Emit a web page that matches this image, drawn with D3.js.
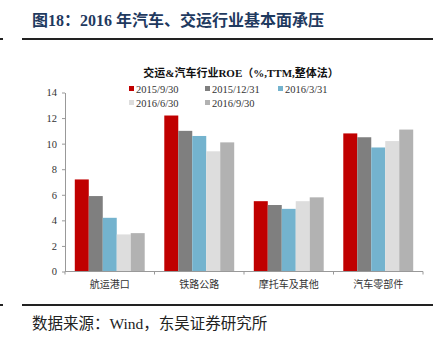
<!DOCTYPE html>
<html><head><meta charset="utf-8">
<script src="https://cdn.jsdelivr.net/npm/d3@7/dist/d3.min.js"></script>
<style>
body{margin:0;background:#fff;}
svg{display:block;}
</style></head>
<body>
<svg id="c" width="440" height="341"></svg>
<script>
const categories = ["航运港口", "铁路公路", "摩托车及其他", "汽车零部件"];
const seriesNames = ["2015/9/30", "2015/12/31", "2016/3/31", "2016/6/30", "2016/9/30"];
const s2015_09 = [7.2, 12.2, 5.5, 10.8];
const s2015_12 = [5.9, 11.0, 5.2, 10.5];
const s2016_03 = [4.2, 10.6, 4.9, 9.7];
const s2016_06 = [2.9, 9.4, 5.5, 10.2];
const s2016_09 = [3.0, 10.1, 5.8, 11.1];
const yTicks = [0, 2, 4, 6, 8, 10, 12, 14];
const colors = ["#C00000", "#7F7F7F", "#74B3CE", "#DDDDDD", "#B2B2B2"];

const seriesValues = [s2015_09, s2015_12, s2016_03, s2016_06, s2016_09];
const svg = d3.select("#c");
const serif = "'Liberation Serif','Times New Roman',serif";
const cjk = "'Noto Sans CJK SC',sans-serif";

// Header
svg.append("text").attr("x", 32).attr("y", 26)
  .attr("font-family", serif + "," + cjk).attr("font-weight", "bold")
  .attr("font-size", 16).attr("fill", "#1F3A5F")
  .text("图18：2016 年汽车、交运行业基本面承压");
svg.append("line").attr("x1", 22).attr("x2", 433).attr("y1", 39).attr("y2", 39)
  .attr("stroke", "#222").attr("stroke-width", 2);
svg.append("line").attr("x1", 0).attr("x2", 3).attr("y1", 39).attr("y2", 39)
  .attr("stroke", "#222").attr("stroke-width", 2);

// Footer
svg.append("line").attr("x1", 22).attr("x2", 433).attr("y1", 305).attr("y2", 305)
  .attr("stroke", "#222").attr("stroke-width", 2);
svg.append("line").attr("x1", 0).attr("x2", 3).attr("y1", 305).attr("y2", 305)
  .attr("stroke", "#222").attr("stroke-width", 2);
svg.append("text").attr("x", 32).attr("y", 329)
  .attr("font-family", serif + "," + cjk).attr("font-size", 15.5).attr("fill", "#222")
  .text("数据来源：Wind，东吴证券研究所");

// Chart title
svg.append("text").attr("x", 241).attr("y", 77).attr("text-anchor", "middle")
  .attr("font-family", serif + "," + cjk).attr("font-weight", "bold")
  .attr("font-size", 11).attr("fill", "#111")
  .text("交运&汽车行业ROE（%,TTM,整体法）");

// Legend
const legX = [129, 205, 278];
seriesNames.forEach((n, i) => {
  const x = legX[i % 3], y = i < 3 ? 89 : 103;
  svg.append("rect").attr("x", x).attr("y", y - 3).attr("width", 5).attr("height", 5).attr("fill", colors[i]);
  svg.append("text").attr("x", x + 7).attr("y", y + 3.5)
    .attr("font-family", serif).attr("font-size", 10.5).attr("fill", "#333").text(n);
});

// Scales
const x0 = d3.scaleBand().domain(categories).range([65, 423]).paddingInner(0).paddingOuter(0);
const x1 = d3.scaleBand().domain(d3.range(5)).range([0, x0.bandwidth()]).paddingInner(0).paddingOuter(0.7);
const y = d3.scaleLinear().domain([0, 14]).range([271.5, 92.5]);

// Bars
const g = svg.append("g");
categories.forEach((c, ci) => {
  seriesValues.forEach((vals, si) => {
    g.append("rect")
      .attr("x", x0(c) + x1(si))
      .attr("width", x1.bandwidth())
      .attr("y", y(vals[ci]))
      .attr("height", y(0) - y(vals[ci]))
      .attr("fill", colors[si]);
  });
});

// Y axis
const yAxis = d3.axisLeft(y).tickValues(yTicks).tickSize(3).tickSizeOuter(0).tickFormat(d3.format("d"));
const ya = svg.append("g").attr("transform", "translate(65,0)").call(yAxis);
ya.select(".domain").attr("stroke", "#999");
ya.selectAll(".tick line").attr("stroke", "#999");
ya.selectAll(".tick text").attr("font-family", serif).attr("font-size", 10.5).attr("fill", "#333").attr("x", -8);

// X axis
const xa = svg.append("g").attr("transform", "translate(0,271.5)");
xa.append("line").attr("x1", 65).attr("x2", 423).attr("stroke", "#999");
const bounds = categories.map(c => x0(c)).concat([x0(categories[categories.length - 1]) + x0.bandwidth()]);
bounds.forEach(b => xa.append("line").attr("x1", b).attr("x2", b).attr("y1", 0).attr("y2", 3).attr("stroke", "#999"));
categories.forEach(c => {
  xa.append("text").attr("x", x0(c) + x0.bandwidth() / 2).attr("y", 16)
    .attr("text-anchor", "middle").attr("font-family", cjk).attr("font-size", 10)
    .attr("fill", "#333").text(c);
});
</script>
</body></html>
